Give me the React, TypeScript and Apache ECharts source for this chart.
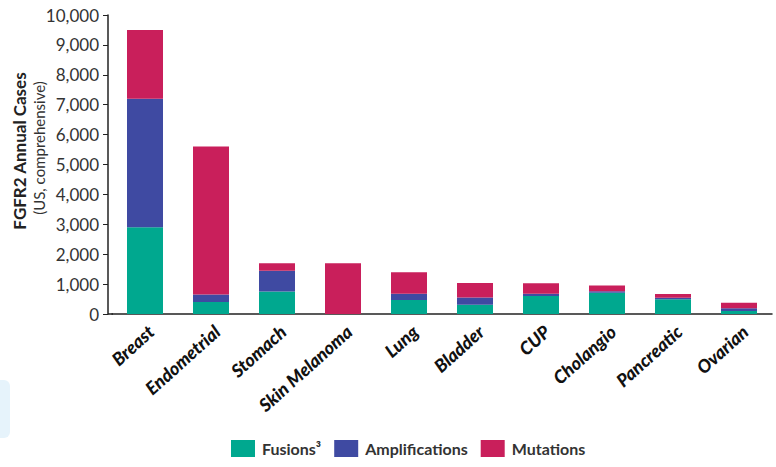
import React, { useEffect, useRef } from "react";
import * as echarts from "echarts";

const categories = ["Breast", "Endometrial", "Stomach", "Skin Melanoma", "Lung", "Bladder", "CUP", "Cholangio", "Pancreatic", "Ovarian"];
const fusions = [2900, 400, 750, 0, 470, 310, 600, 710, 490, 100];
const amplifications = [4300, 250, 700, 0, 210, 240, 80, 50, 50, 90];
const mutations = [2300, 4950, 250, 1700, 720, 490, 350, 190, 130, 190];
const seriesNames = ["Fusions³", "Amplifications", "Mutations"];
const colors = ["#00A88F", "#3F4AA2", "#C91F5B"];

export default function App() {
  const ref = useRef<HTMLDivElement>(null);
  useEffect(() => {
    const chart = echarts.init(ref.current!, undefined, { renderer: "svg" });
    const font = "Lato, 'Open Sans', sans-serif";
    const mk = (name: string, data: number[], color: string) => ({
      name,
      type: "bar",
      stack: "total",
      data,
      barWidth: 36,
      itemStyle: { color },
    });
    chart.setOption({
      animation: false,
      textStyle: { fontFamily: font },
      grid: { left: 112, right: 4, top: 15, bottom: 153 },
      xAxis: {
        type: "category",
        data: categories,
        axisLine: { lineStyle: { color: "#222", width: 1.5 } },
        axisTick: { show: false },
        axisLabel: {
          rotate: 42,
          interval: 0,
          fontSize: 18,
          fontWeight: 900,
          fontStyle: "italic",
          color: "#111",
          fontFamily: font,
          margin: 8,
          verticalAlign: "top",
          padding: [0, 0, 0, 0],
        },
      },
      yAxis: {
        type: "value",
        min: 0,
        max: 10000,
        interval: 1000,
        offset: 4,
        splitLine: { show: false },
        axisLine: { show: true, lineStyle: { color: "#222", width: 1.5 } },
        axisTick: { show: true, length: 5, lineStyle: { color: "#222" } },
        axisLabel: {
          fontSize: 17,
          color: "#333",
          fontFamily: font,
          margin: 9,
          formatter: (v: number) => v.toLocaleString("en-US"),
        },
      },
      legend: {
        bottom: 5,
        left: 226,
        itemWidth: 24,
        itemHeight: 17,
        itemGap: 13,
        icon: "rect",
        textStyle: { fontSize: 16, fontWeight: "bold", color: "#333", fontFamily: font, padding: [0, 0, 0, 2] },
        data: seriesNames,
      },
      graphic: [
        {
          type: "rect",
          shape: { x: -10, y: 380, width: 20, height: 58, r: 6 },
          style: { fill: "#E6F3FB" },
        },
        {
          type: "line",
          shape: { x1: 108, y1: 314, x2: 113, y2: 314 },
          style: { stroke: "#222", lineWidth: 1.5 },
        },
        {
          type: "text",
          x: 19,
          y: 151,
          rotation: Math.PI / 2,
          style: {
            text: "FGFR2 Annual Cases",
            font: "bold 17px Lato, 'Open Sans', sans-serif",
            fill: "#222",
            align: "center",
            verticalAlign: "middle",
          },
        },
        {
          type: "text",
          x: 39,
          y: 148,
          rotation: Math.PI / 2,
          style: {
            text: "(US, comprehensive)",
            font: "15px Lato, 'Open Sans', sans-serif",
            fill: "#333",
            align: "center",
            verticalAlign: "middle",
          },
        },
      ],
      series: [
        mk(seriesNames[0], fusions, colors[0]),
        mk(seriesNames[1], amplifications, colors[1]),
        mk(seriesNames[2], mutations, colors[2]),
      ],
    });
    return () => chart.dispose();
  }, []);
  return <div ref={ref} style={{ position: "absolute", left: 0, top: 0, width: 776, height: 467 }} />;
}
